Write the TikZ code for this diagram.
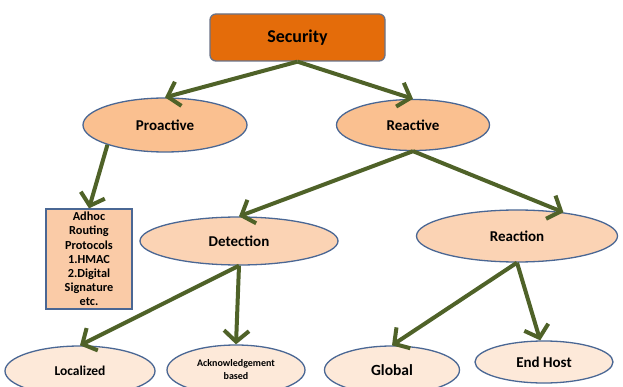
\documentclass[tikz,border=0pt]{standalone}
\usepackage{fontspec}
\setmainfont{Carlito}
\usetikzlibrary{shapes.geometric,arrows.meta}

\definecolor{rootfill}{HTML}{E46C0A}
\definecolor{rootline}{HTML}{6A7388}
\definecolor{lvlone}{HTML}{FAC090}
\definecolor{lvltwo}{HTML}{FBD3B4}
\definecolor{lvlthree}{HTML}{FDE9D9}
\definecolor{boxfill}{HTML}{FACBA7}
\definecolor{edgeline}{HTML}{4A6794}
\definecolor{arrowgreen}{HTML}{4F6228}

\tikzset{
  rootbox/.style={draw=rootline, line width=1.3pt, fill=rootfill, rounded corners=6pt,
    minimum width=175pt, minimum height=47pt, font=\fontsize{18}{20}\selectfont\bfseries},
  oval/.style={ellipse, draw=edgeline, line width=1.3pt, inner sep=0pt},
  ovalone/.style={oval, fill=lvlone, font=\fontsize{15}{17}\selectfont\bfseries},
  ovaltwo/.style={oval, fill=lvltwo, font=\fontsize{15}{17}\selectfont\bfseries},
  ovalthree/.style={oval, fill=lvlthree, font=\fontsize{13.5}{15}\selectfont\bfseries},
  listbox/.style={draw=edgeline, line width=1.3pt, fill=boxfill, inner sep=0pt,
    minimum width=86pt, minimum height=100pt, align=center,
    font=\fontsize{12.3}{14.2}\selectfont\bfseries},
  link/.style={draw=arrowgreen, line width=4pt,
    -{Straight Barb[length=11pt,width=25pt,line width=4pt]}}
}

\begin{document}
\begin{tikzpicture}[x=1pt,y=-1pt]
  \clip (0,0) rectangle (623,387);
  \fill[white] (0,0) rectangle (623,387);

  % tree nodes
  \node[rootbox] (sec) at (297.5,37.5) {Security};

  \node[ovalone, minimum width=164pt, minimum height=54pt] (pro) at (165,125) {Proactive};
  \node[ovalone, minimum width=153pt, minimum height=51pt] (rea) at (413,125) {Reactive};

  \node[listbox] (adhoc) at (89,259) {Adhoc\\Routing\\Protocols\\1.HMAC\\2.Digital\\Signature\\etc.};

  \node[ovaltwo, minimum width=198pt, minimum height=48pt] (det) at (239,241) {Detection};
  \node[ovaltwo, minimum width=201pt, minimum height=52pt] (rct) at (517,236) {Reaction};

  \node[ovalthree, minimum width=150pt, minimum height=50pt] (loc) at (80,371) {Localized};
  \node[ovalthree, minimum width=138pt, minimum height=50pt, align=center,
        font=\fontsize{10}{13}\selectfont\bfseries] (ack) at (236,370) {Acknowledgement\\based};
  \node[ovalthree, minimum width=135pt, minimum height=48pt,
        font=\fontsize{15.5}{17}\selectfont\bfseries] (glo) at (392,370) {Global};
  \node[ovalthree, minimum width=138pt, minimum height=42pt,
        font=\fontsize{15}{17}\selectfont\bfseries] (end) at (544,362) {End Host};

  % connectors
  \draw[link] (sec.south) -- (pro.north);
  \draw[link] (sec.south) -- (rea.north);
  \draw[link] (pro.199) -- (adhoc.north);
  \draw[link] (rea.south) -- (det.north);
  \draw[link] (rea.south) -- (rct.27);
  \draw[link] (det.south) -- (loc.north);
  \draw[link] (det.south) -- (ack.north);
  \draw[link] (rct.south) -- (glo.north);
  \draw[link] (rct.south) -- (end.100);
\end{tikzpicture}
\end{document}
